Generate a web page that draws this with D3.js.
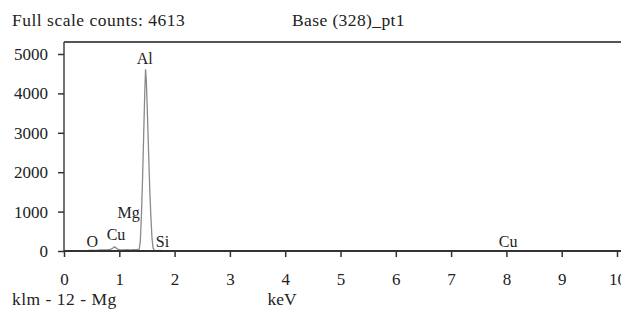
<!DOCTYPE html>
<html lang="en">
<head>
  <meta charset="utf-8">
  <title>EDS spectrum</title>
  <script src="https://d3js.org/d3.v7.min.js"></script>
  <style>
    body { margin: 0; background: #fff; }
    svg text { font-family: "Liberation Serif", "DejaVu Serif", serif; fill: #222; }
  </style>
</head>
<body>
<svg id="chart" width="621" height="324"></svg>
<script>
// spectrum (keV, counts)
var energy = [0, 0.1, 0.2, 0.3, 0.4, 0.46, 0.5, 0.54, 0.6, 0.66, 0.72, 0.78, 0.84, 0.88, 0.91, 0.94, 0.98, 1.02, 1.08, 1.14, 1.2, 1.26, 1.32, 1.36,
              1.38, 1.40, 1.42, 1.44, 1.46, 1.475, 1.49, 1.51, 1.53, 1.55, 1.57, 1.59, 1.61, 1.63, 1.66, 1.7, 1.74, 1.78, 1.85,
              2.0, 2.3, 2.6, 3.0, 3.5, 4.0, 4.5, 5.0, 5.5, 6.0, 6.5, 7.0, 7.5, 7.9, 8.04, 8.2, 8.6, 9.0, 9.5, 10, 10.2];
var counts = [0, 2, 4, 6, 10, 18, 22, 16, 20, 28, 30, 26, 40, 70, 105, 80, 40, 30, 28, 35, 30, 36, 40, 45,
              250, 900, 1800, 2900, 4000, 4613, 4300, 3400, 2500, 1600, 900, 350, 80, 22, 12, 10, 16, 10, 8,
              6, 5, 6, 4, 5, 4, 5, 4, 4, 5, 4, 4, 5, 6, 12, 6, 4, 4, 3, 3, 3];

var yTicks = [0, 1000, 2000, 3000, 4000, 5000];
var xTicks = [0, 1, 2, 3, 4, 5, 6, 7, 8, 9, 10];

// peak labels: element, keV, counts at baseline of text
var peakNames = ["O", "Cu", "Mg", "Al", "Si", "Cu"];
var peakKeV = [0.51, 0.94, 1.17, 1.46, 1.78, 8.03];
var peakY = [100, 290, 850, 4740, 100, 100];

var svg = d3.select("#chart");

var x = d3.scaleLinear().domain([0, 10]).range([64, 617]);
var y = d3.scaleLinear().domain([0, 5000]).range([251, 54]);

// header texts
svg.append("text").attr("x", 12).attr("y", 26).style("font-size", "17.5px").style("letter-spacing", "0.5px")
    .text("Full scale counts: 4613");
svg.append("text").attr("x", 292).attr("y", 26).style("font-size", "17.5px").style("letter-spacing", "0.4px")
    .text("Base (328)_pt1");

// frame: top and left lines
svg.append("line")
    .attr("x1", 64).attr("x2", 621).attr("y1", 42).attr("y2", 42)
    .attr("stroke", "#555").attr("stroke-width", 2);
svg.append("line")
    .attr("x1", 64).attr("x2", 64).attr("y1", 42).attr("y2", 251)
    .attr("stroke", "#444").attr("stroke-width", 1.5);

// spectrum
var line = d3.line()
    .x(function(d, i) { return x(energy[i]); })
    .y(function(d) { return y(d); });

svg.append("path")
    .datum(counts)
    .attr("fill", "none")
    .attr("stroke", "#8a8a8a")
    .attr("stroke-width", 1.3)
    .attr("d", line);

// axes
var xAxis = svg.append("g")
    .attr("transform", "translate(0,251)")
    .call(d3.axisBottom(x).tickValues(xTicks).tickSize(6).tickSizeOuter(0).tickPadding(16));
xAxis.select(".domain").attr("stroke", "#333").attr("stroke-width", 2)
    .attr("d", "M64,0H621");
xAxis.selectAll(".tick line").attr("stroke", "#333").attr("stroke-width", 1.5);
xAxis.selectAll(".tick text").style("font-size", "17px").attr("fill", "#222");

var yAxis = svg.append("g")
    .attr("transform", "translate(64,0)")
    .call(d3.axisLeft(y).tickValues(yTicks).tickFormat(d3.format("d")).tickSize(6).tickSizeOuter(0).tickPadding(10));
yAxis.select(".domain").remove();
yAxis.selectAll(".tick line").attr("stroke", "#333").attr("stroke-width", 1.5);
yAxis.selectAll(".tick text").style("font-size", "17px").attr("fill", "#222");

// peak labels
svg.selectAll(".peak")
    .data(peakNames)
    .enter().append("text")
    .attr("class", "peak")
    .attr("x", function(d, i) { return x(peakKeV[i]); })
    .attr("y", function(d, i) { return y(peakY[i]); })
    .attr("text-anchor", "middle")
    .style("font-size", "16px")
    .text(function(d) { return d; });

// footer texts
svg.append("text").attr("x", 12).attr("y", 305).style("font-size", "17.5px").style("letter-spacing", "0.5px")
    .text("klm - 12 - Mg");
svg.append("text").attr("x", 282).attr("y", 305).attr("text-anchor", "middle").style("font-size", "17.5px")
    .text("keV");
</script>
</body>
</html>
